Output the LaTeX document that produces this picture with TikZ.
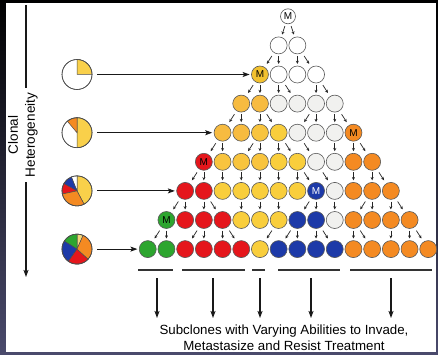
\documentclass[tikz,border=0pt]{standalone}
\usepackage{fontspec}
\setmainfont{Liberation Sans}
\usetikzlibrary{arrows.meta}
\definecolor{cW}{HTML}{FFFFFF}
\definecolor{cO}{HTML}{F1F1EF}
\definecolor{cA}{HTML}{F7BB40}
\definecolor{cB}{HTML}{F8C43E}
\definecolor{cY}{HTML}{F9CE3C}
\definecolor{cR}{HTML}{E5161C}
\definecolor{cU}{HTML}{1D3AA8}
\definecolor{cG}{HTML}{2DA52F}
\definecolor{cN}{HTML}{F48A22}
\definecolor{cM}{HTML}{F2C12E}
\definecolor{pY}{HTML}{F9D04A}
\definecolor{pL}{HTML}{F3D77A}
\definecolor{bgbot}{HTML}{4A4A6C}
\def\nn{}
\newcommand\mkrow[2]{\foreach \c/\t/\k [count=\i from 0] in {#2} {\node[cell, fill=c\c, text=\k] (r#1-\i) at ({288+(\i-#1+0.5)*18.7}, {337.7-29.1*#1}) {\t};}}
\begin{document}
\begin{tikzpicture}[x=1pt,y=1pt,
  cell/.style={circle, draw=black!65, line width=0.6pt, minimum size=17pt, inner sep=0pt, font=\fontsize{10}{10}\selectfont},
  sarr/.style={-{Stealth[length=3.2pt,width=3pt]}, line width=0.7pt, draw=black!85},
  varr/.style={sarr, shorten <=1.8pt, shorten >=1.8pt},
  darr/.style={sarr, shorten <=3.8pt, shorten >=3.8pt},
  tarr/.style={sarr, shorten <=2.5pt, shorten >=2.5pt},
  bigarr/.style={-{Stealth[length=7pt,width=5pt,inset=1.5pt]}, line width=1.1pt, draw=black!90},
  bar/.style={line width=1.7pt, draw=black!80},
  pie/.style={circle, minimum size=30pt, inner sep=0pt, draw=black!70, line width=0.6pt},
  wedge/.style={draw=black!70, line width=0.5pt},
]
\useasboundingbox (0,0) rectangle (438,354);
% background frame
\shade[top color=black, bottom color=bgbot] (0,0) rectangle (438,354);
\fill[white] (6,2) rectangle (436,351);

% tree cells
\node[cell, minimum size=15pt, fill=white] (r0-0) at (288,337.7) {M};
\mkrow{1}{W/\nn/black,W/\nn/black}
\mkrow{2}{M/M/black,W/\nn/black,W/\nn/black,W/\nn/black}
\mkrow{3}{A/\nn/black,A/\nn/black,O/\nn/black,O/\nn/black,O/\nn/black,O/\nn/black}
\mkrow{4}{A/\nn/black,A/\nn/black,B/\nn/black,Y/\nn/black,O/\nn/black,O/\nn/black,O/\nn/black,N/M/black}
\mkrow{5}{R/M/black,B/\nn/black,B/\nn/black,B/\nn/black,Y/\nn/black,Y/\nn/black,O/\nn/black,O/\nn/black,N/\nn/black,N/\nn/black}
\mkrow{6}{R/\nn/black,R/\nn/black,Y/\nn/black,Y/\nn/black,Y/\nn/black,Y/\nn/black,Y/\nn/black,U/M/white,O/\nn/black,N/\nn/black,N/\nn/black,N/\nn/black}
\mkrow{7}{G/M/black,R/\nn/black,R/\nn/black,R/\nn/black,Y/\nn/black,Y/\nn/black,Y/\nn/black,U/\nn/black,U/\nn/black,O/\nn/black,N/\nn/black,N/\nn/black,N/\nn/black,N/\nn/black}
\mkrow{8}{G/\nn/black,G/\nn/black,R/\nn/black,R/\nn/black,R/\nn/black,R/\nn/black,Y/\nn/black,U/\nn/black,U/\nn/black,U/\nn/black,U/\nn/black,N/\nn/black,N/\nn/black,N/\nn/black,N/\nn/black,N/\nn/black}

% small arrows
\draw[tarr] (r0-0) -- (r1-0);
\draw[tarr] (r0-0) -- (r1-1);
\foreach \n/\p/\q in {1/0/0,1/0/1,1/1/2,1/1/3,
  2/0/0,2/0/1,2/1/2,2/1/3,2/3/4,2/3/5,
  3/0/0,3/0/1,3/1/2,3/1/3,3/4/4,3/4/5,3/5/6,3/5/7,
  4/0/0,4/0/1,4/2/2,4/2/3,4/3/4,4/3/5,4/4/6,4/6/7,4/7/8,4/7/9,
  5/0/0,5/0/1,5/1/2,5/2/3,5/3/4,5/4/5,5/5/6,5/5/7,5/6/8,5/8/9,5/9/10,5/9/11,
  6/0/0,6/0/1,6/1/2,6/1/3,6/3/4,6/4/5,6/5/6,6/7/7,6/7/8,6/8/9,6/10/10,6/10/11,6/11/12,6/11/13,
  7/0/0,7/0/1,7/2/2,7/2/3,7/3/4,7/3/5,7/6/6,7/7/7,7/7/8,7/8/9,7/8/10,7/10/11,7/10/12,7/12/13,7/13/14,7/13/15}{
  \pgfmathtruncatemacro\m{\n+1}
  \pgfmathtruncatemacro\d{\q-\p-1}
  \ifnum\d=0 \def\st{varr}\else\def\st{darr}\fi
  \draw[\st] (r\n-\p) -- (r\m-\q);
}

% pie charts
\node[pie, fill=white] (pie1) at (77,{337.7-29.1*2}) {};
\node[pie, fill=white] (pie2) at (77,{337.7-29.1*4}) {};
\node[pie, fill=white] (pie3) at (77,{337.7-29.1*6}) {};
\node[pie, fill=white] (pie4) at (77,{337.7-29.1*8}) {};
% pie 1
\filldraw[wedge, fill=pY] (pie1.center) -- ++(0:15) arc[start angle=0, end angle=90, radius=15] -- cycle;
% pie 2
\filldraw[wedge, fill=pY] (pie2.center) -- ++(-90:15) arc[start angle=-90, end angle=90, radius=15] -- cycle;
\filldraw[wedge, fill=cN] (pie2.center) -- ++(90:15) arc[start angle=90, end angle=130, radius=15] -- cycle;
% pie 3
\filldraw[wedge, fill=pY] (pie3.center) -- ++(-62:15) arc[start angle=-62, end angle=90, radius=15] -- cycle;
\filldraw[wedge, fill=white] (pie3.center) -- ++(90:15) arc[start angle=90, end angle=112, radius=15] -- cycle;
\filldraw[wedge, fill=cU] (pie3.center) -- ++(112:15) arc[start angle=112, end angle=151, radius=15] -- cycle;
\filldraw[wedge, fill=cR] (pie3.center) -- ++(151:15) arc[start angle=151, end angle=192, radius=15] -- cycle;
\filldraw[wedge, fill=cN] (pie3.center) -- ++(192:15) arc[start angle=192, end angle=298, radius=15] -- cycle;
% pie 4
\filldraw[wedge, fill=pL] (pie4.center) -- ++(66:15) arc[start angle=66, end angle=90, radius=15] -- cycle;
\filldraw[wedge, fill=cG] (pie4.center) -- ++(90:15) arc[start angle=90, end angle=148, radius=15] -- cycle;
\filldraw[wedge, fill=cU] (pie4.center) -- ++(148:15) arc[start angle=148, end angle=235, radius=15] -- cycle;
\filldraw[wedge, fill=cR] (pie4.center) -- ++(235:15) arc[start angle=235, end angle=318, radius=15] -- cycle;
\filldraw[wedge, fill=cN] (pie4.center) -- ++(318:15) arc[start angle=318, end angle=426, radius=15] -- cycle;
\foreach \k in {1,2,3,4} \draw[black!70, line width=0.6pt] (pie\k) circle[radius=15];

% pie arrows
\draw[bigarr, shorten <=5pt, shorten >=1.5pt] (pie1) -- (r2-0);
\draw[bigarr, shorten <=5pt, shorten >=1.5pt] (pie2) -- (r4-0);
\draw[bigarr, shorten <=5pt, shorten >=1.5pt] (pie3) -- (r6-0);
\draw[bigarr, shorten <=5pt, shorten >=1.5pt] (pie4) -- (r8-0);

% clonal heterogeneity axis
\node[rotate=90, align=center, font=\fontsize{13.5}{17}\selectfont] (het) at (23,219) {Clonal\\Heterogeneity};
\coordinate (latop) at (26,349);
\coordinate (lagap1) at (26,266);
\coordinate (lagap2) at (26,172);
\coordinate (labot) at (26,77);
\draw[line width=1.1pt, black!90] (latop) -- (lagap1);
\draw[bigarr] (lagap2) -- (labot);

% bars and down arrows
\foreach \k/\l/\r/\a in {1/138/173/157, 2/182/245/213, 3/252/265/260, 4/278/340/311, 5/350/432/391}{
  \coordinate (bar\k l) at (\l,84);
  \coordinate (bar\k r) at (\r,84);
  \coordinate (dn\k s) at (\a,76);
  \coordinate (dn\k e) at (\a,36);
  \draw[bar] (bar\k l) -- (bar\k r);
  \draw[bigarr] (dn\k s) -- (dn\k e);
}

\node[align=center, font=\fontsize{13.3}{16}\selectfont] (caption) at (284,16) {Subclones with Varying Abilities to Invade,\\Metastasize and Resist Treatment};
\end{tikzpicture}
\end{document}
